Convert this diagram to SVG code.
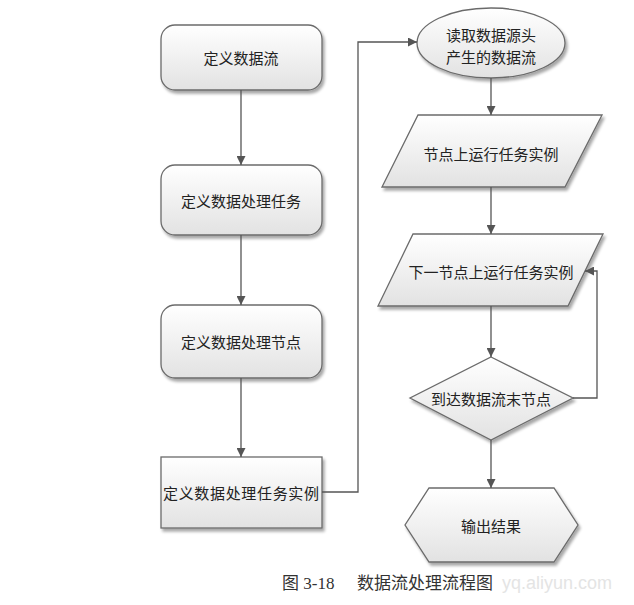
<svg xmlns="http://www.w3.org/2000/svg" width="634" height="605" viewBox="0 0 634 605">
<defs>
<linearGradient id="g" x1="0" y1="0" x2="0" y2="1">
<stop offset="0" stop-color="#ffffff"/>
<stop offset="1" stop-color="#e2e2e2"/>
</linearGradient>
<filter id="sh" x="-10%" y="-10%" width="130%" height="140%">
<feGaussianBlur in="SourceAlpha" stdDeviation="1.5"/>
<feOffset dx="2" dy="3" result="b"/>
<feComponentTransfer><feFuncA type="linear" slope="0.35"/></feComponentTransfer>
<feMerge><feMergeNode/><feMergeNode in="SourceGraphic"/></feMerge>
</filter>
<marker id="ah" viewBox="0 0 10 10" refX="10" refY="5" markerWidth="9" markerHeight="9" markerUnits="userSpaceOnUse" orient="auto">
<path d="M0,0 L10,5 L0,10 Z" fill="#555"/>
</marker>
</defs>
<style>
.shape{fill:url(#g);stroke:#6b6b6b;stroke-width:1.3;filter:url(#sh)}
.t{font-family:"Noto Sans CJK SC","Liberation Serif",serif;font-size:15px;fill:#222;text-anchor:middle;dominant-baseline:central}
.c{fill:none;stroke:#555;stroke-width:1.3;marker-end:url(#ah)}
.cap{font-family:"Liberation Serif","Noto Sans CJK SC",serif;font-size:17px;fill:#333}
</style>
<rect width="634" height="605" fill="#fff"/>
<g id="n1"><rect class="shape" x="161" y="25" width="161" height="65" rx="14"/><text class="t" x="241" y="57">定义数据流</text></g>
<g id="n2"><rect class="shape" x="161" y="165" width="161" height="70" rx="14"/><text class="t" x="241" y="200">定义数据处理任务</text></g>
<g id="n3"><rect class="shape" x="161" y="305" width="161" height="73" rx="14"/><text class="t" x="241" y="341">定义数据处理节点</text></g>
<g id="n4"><rect class="shape" x="161" y="457" width="161" height="71"/><text class="t" x="241" y="492" textLength="156">定义数据处理任务实例</text></g>
<g id="n5"><ellipse class="shape" cx="491" cy="43" rx="74" ry="35"/><text class="t" x="491" y="34">读取数据源头</text><text class="t" x="491" y="56">产生的数据流</text></g>
<g id="n6"><polygon class="shape" points="418,115 602,115 565,187 382,187"/><text class="t" x="491" y="153">节点上运行任务实例</text></g>
<g id="n7"><polygon class="shape" points="413,234 603,234 568,306 378,306"/><text class="t" x="491" y="271">下一节点上运行任务实例</text></g>
<g id="n8"><polygon class="shape" points="491,357 573,398 491,440 410,398"/><text class="t" x="491" y="398">到达数据流末节点</text></g>
<g id="n9"><polygon class="shape" points="429,488 554,488 578,525 554,562 429,562 405,525"/><text class="t" x="491" y="525">输出结果</text></g>
<g id="connectors">
<path class="c" d="M241,90 V165"/>
<path class="c" d="M241,235 V305"/>
<path class="c" d="M241,378 V457"/>
<path class="c" d="M322,492 H358 V42 H417"/>
<path class="c" d="M491,78 V115"/>
<path class="c" d="M491,187 V234"/>
<path class="c" d="M491,306 V357"/>
<path class="c" d="M573,398 H597 V271 H585"/>
<path class="c" d="M491,440 V488"/>
</g>
<text class="cap" x="282" y="589">图 3-18<tspan x="357">数据流处理流程图</tspan></text>
<text x="502" y="589" font-family="Liberation Sans,sans-serif" font-size="18" fill="#e4e4e4">yq.aliyun.com</text>
</svg>
